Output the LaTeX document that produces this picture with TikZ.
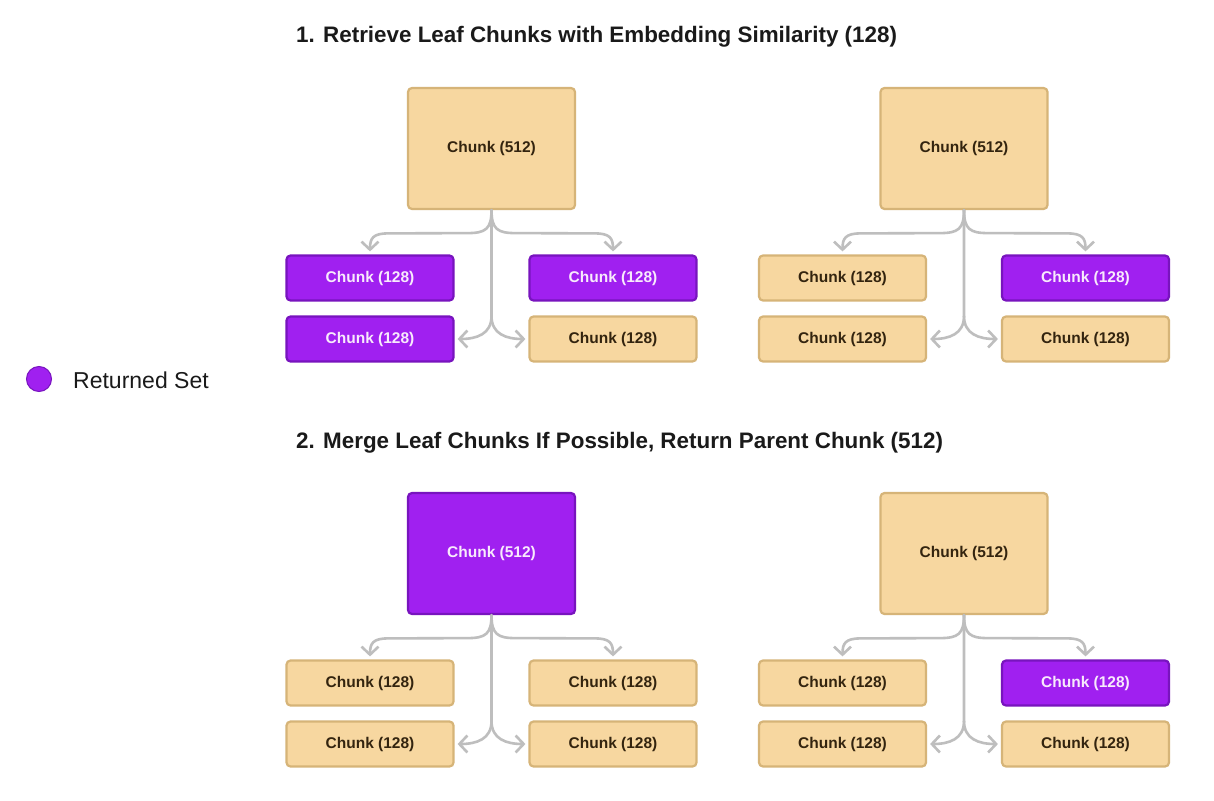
\documentclass[tikz,border=0pt]{standalone}
\usepackage{fontspec}
\setmainfont{Liberation Sans}
\usetikzlibrary{arrows.meta,calc}
\definecolor{beige}{HTML}{F7D7A0}
\definecolor{beigedark}{HTML}{D6B478}
\definecolor{beigetext}{HTML}{33240F}
\definecolor{purp}{HTML}{A020F0}
\definecolor{purpdark}{HTML}{7814BE}
\definecolor{purptext}{HTML}{F8EAFC}
\definecolor{arrowgray}{HTML}{BEBEBE}
\definecolor{titletext}{HTML}{1A1A1A}
\newcommand\chunktree[8]{%
  \node[big,#4] (#1p) at (#2,#3) {Chunk (512)};
  \node[small,#5] (#1a) at ($(#2,#3)+(-121.5,129.5)$) {Chunk (128)};
  \node[small,#6] (#1b) at ($(#2,#3)+(121.5,129.5)$) {Chunk (128)};
  \node[small,#7] (#1c) at ($(#2,#3)+(-121.5,190.5)$) {Chunk (128)};
  \node[small,#8] (#1d) at ($(#2,#3)+(121.5,190.5)$) {Chunk (128)};
  \draw[tip] (#1p.south) -- ($(#1p.south)+(0,106)$)
     .. controls ($(#1p.south)+(0,124)$) and ($(#1c.east)+(22,0)$) .. ($(#1c.east)+(3,0)$);
  \draw[tip] ($(#1p.south)+(0,106)$)
     .. controls ($(#1p.south)+(0,124)$) and ($(#1d.west)+(-22,0)$) .. ($(#1d.west)+(-3,0)$);
  \draw[tip] (#1p.south) .. controls ($(#1p.south)+(0,19)$) and ($(#1p.south)+(-6,23)$) .. ($(#1p.south)+(-24,23)$)
     -- ($(#1a.north)+(18,-21)$) .. controls ($(#1a.north)+(3,-21)$) and ($(#1a.north)+(0,-16)$) .. ($(#1a.north)+(0,-3)$);
  \draw[tip] (#1p.south) .. controls ($(#1p.south)+(0,19)$) and ($(#1p.south)+(6,23)$) .. ($(#1p.south)+(24,23)$)
     -- ($(#1b.north)+(-18,-21)$) .. controls ($(#1b.north)+(-3,-21)$) and ($(#1b.north)+(0,-16)$) .. ($(#1b.north)+(0,-3)$);
}
\begin{document}
\begin{tikzpicture}[x=1pt,y=-1pt,
  box/.style={rectangle, rounded corners=4pt, line width=2.2pt, inner sep=0pt,
    font=\bfseries\fontsize{15.5}{18}\selectfont},
  big/.style={box, minimum width=167pt, minimum height=121pt},
  small/.style={box, minimum width=167pt, minimum height=45pt},
  ret/.style={fill=purp, draw=purpdark, text=purptext},
  non/.style={fill=beige, draw=beigedark, text=beigetext},
  tip/.style={draw=arrowgray, line width=2.6pt, line cap=round, line join=round,
    -{Straight Barb[length=8pt,width=17pt]}},
  title/.style={anchor=base west, inner sep=0pt, text=titletext,
    font=\bfseries\fontsize{22.4}{26}\selectfont},
]
\fill[white] (0,0) rectangle (1214,800);
\useasboundingbox (0,0) rectangle (1214,800);

\node[title] (t1) at (296,42) {1. Retrieve Leaf Chunks with Embedding Similarity (128)};
\node[title] (t2) at (296,448) {2. Merge Leaf Chunks If Possible, Return Parent Chunk (512)};

\chunktree{A}{491.5}{148.5}{non}{ret}{ret}{ret}{non}
\chunktree{B}{964}{148.5}{non}{non}{ret}{non}{non}
\chunktree{C}{491.5}{553.5}{ret}{non}{non}{non}{non}
\chunktree{D}{964}{553.5}{non}{non}{ret}{non}{non}

\node[circle, fill=purp, draw=purpdark, line width=1pt, minimum size=25pt, inner sep=0pt] (leg) at (39,379) {};
\node[anchor=west, inner sep=0pt, text=titletext, font=\fontsize{23}{27}\selectfont] (legt) at (73,380) {Returned Set};
\end{tikzpicture}
\end{document}
